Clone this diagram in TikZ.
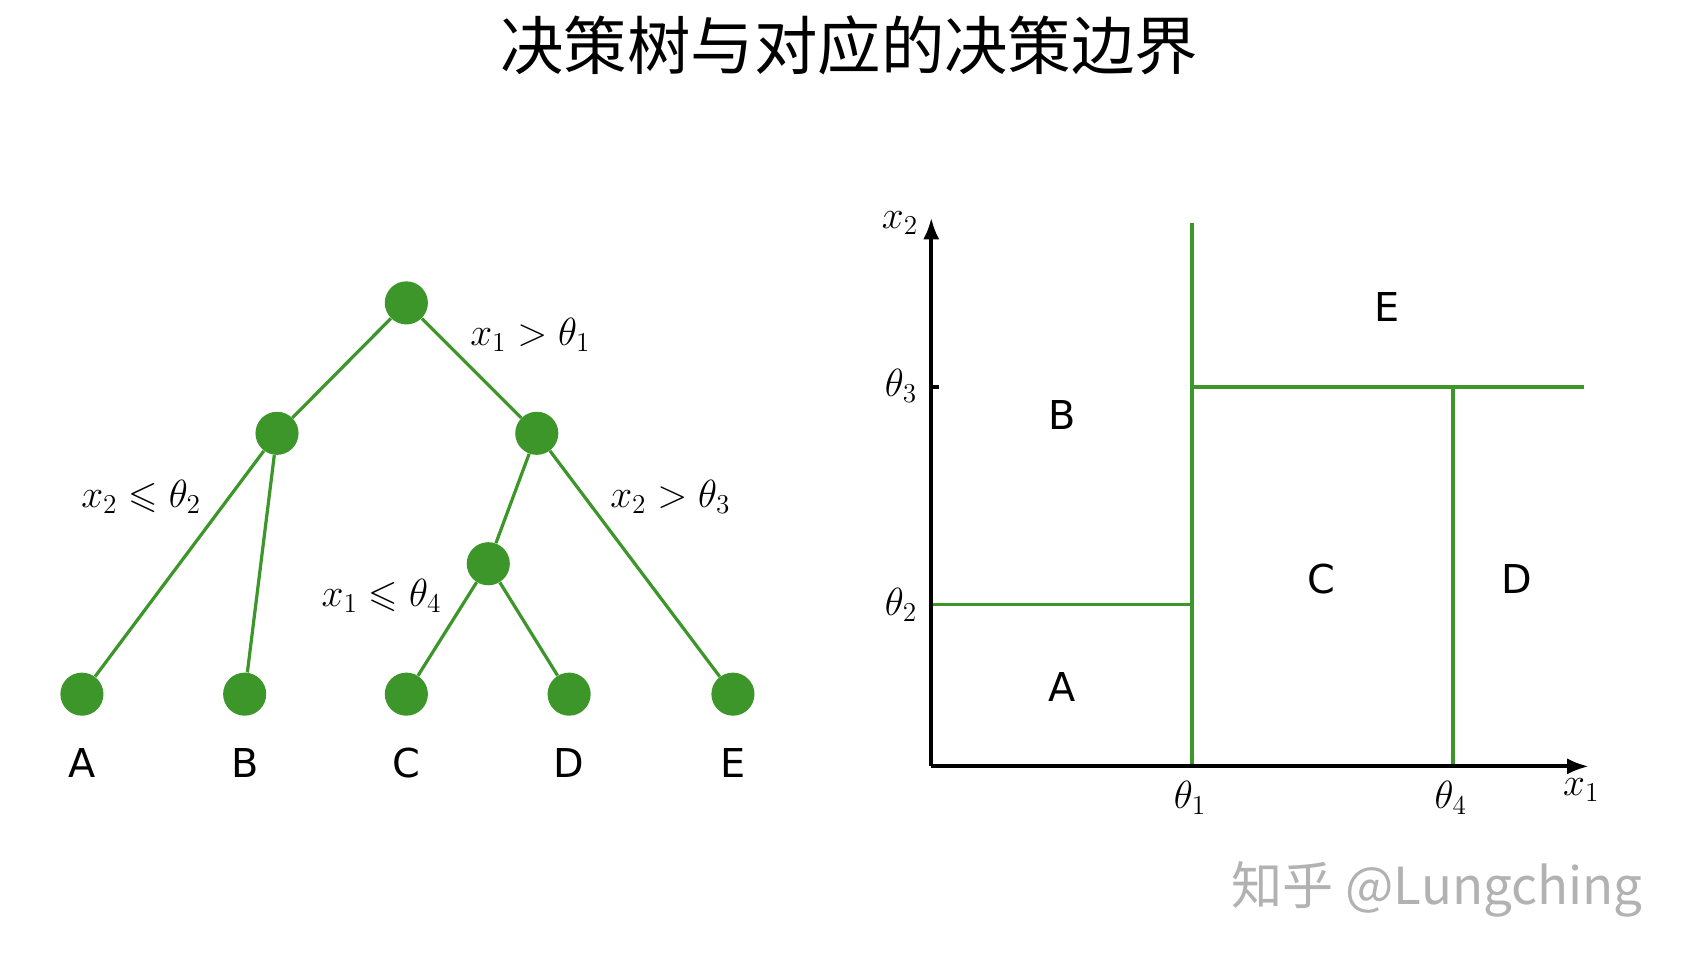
\documentclass[tikz,border=0pt]{standalone}
\usepackage{amsmath, amssymb}
\usepackage{fontspec}
\newfontfamily\cjk{Noto Sans CJK SC}
\newfontfamily\lbl{DejaVu Sans}
\usetikzlibrary{positioning, arrows.meta}
\definecolor{treegreen}{RGB}{60,150,42}
\tikzset{>={Latex[length=0.4cm, width=0.3cm]}}

\begin{document}
\begin{tikzpicture}[x=0.02cm, y=-0.02cm,
    dot/.style={circle, fill=treegreen, inner sep=0pt, minimum size=0.8cm},
    branch/.style={treegreen, line width=1.7pt},
    border/.style={treegreen, line width=1.8pt},
    axis/.style={black, line width=2pt},
    leafname/.style={font=\lbl\fontsize{21}{24}\selectfont},
    cond/.style={font=\fontsize{20}{24}\selectfont}]
    \useasboundingbox (0,0) rectangle (1567,894);
    \node[font=\cjk\fontsize{33.5}{38}\selectfont] (title) at (788,42) {决策树与对应的决策边界};

    % tree
    \node[dot] (root) at (377,281) {};
    \node[dot] (left) at (257,402) {};
    \node[dot] (right) at (498,402) {};
    \node[dot] (mid) at (453,523) {};
    \foreach \n/\x in {A/76, B/227, C/377, D/528, E/680} {
        \node[dot] (leaf\n) at (\x,644) {};
        \node[leafname] (name\n) at (\x,708) {\n};
    }
    \draw[branch] (root) -- (left);
    \draw[branch] (root) -- (right);
    \draw[branch] (left) -- (leafA);
    \draw[branch] (left) -- (leafB);
    \draw[branch] (right) -- (mid);
    \draw[branch] (right) -- (leafE);
    \draw[branch] (mid) -- (leafC);
    \draw[branch] (mid) -- (leafD);
    \node[cond] (c1) at (492,311) {$x_1 > \theta_1$};
    \node[cond] (c2) at (131,461) {$x_2 \leqslant \theta_2$};
    \node[cond] (c3) at (622,461) {$x_2 > \theta_3$};
    \node[cond] (c4) at (354,553) {$x_1 \leqslant \theta_4$};

    % decision regions
    \coordinate (O) at (864,711);
    \coordinate (xend) at (1474,711);
    \coordinate (yend) at (864,202);
    \coordinate (t1low) at (1106,711);
    \coordinate (t1top) at (1106,207);
    \coordinate (t2left) at (864,561);
    \coordinate (t2right) at (1106,561);
    \coordinate (t3left) at (1106,359);
    \coordinate (t3right) at (1470,359);
    \coordinate (t4top) at (1348,359);
    \coordinate (t4low) at (1348,711);
    \draw[border] (t1low) -- (t1top);
    \draw[border] (t2left) -- (t2right);
    \draw[border] (t3left) -- (t3right);
    \draw[border] (t4top) -- (t4low);
    \draw[axis, ->] (O) -- (xend);
    \draw[axis, ->] (O) -- (yend);
    \draw[axis] (864,359) -- (871,359);
    \node[cond] (x1) at (1467,733) {$x_1$};
    \node[cond] (x2) at (835,207) {$x_2$};
    \node[cond] (th3) at (836,358) {$\theta_3$};
    \node[cond] (th2) at (836,561) {$\theta_2$};
    \node[cond] (th1) at (1104,740) {$\theta_1$};
    \node[cond] (th4) at (1346,740) {$\theta_4$};
    \node[leafname] (rB) at (985,385) {B};
    \node[leafname] (rE) at (1287,285) {E};
    \node[leafname] (rC) at (1226,537) {C};
    \node[leafname] (rD) at (1407,537) {D};
    \node[leafname] (rA) at (985,637) {A};

    \node[anchor=east, text=black!30, font=\cjk\fontsize{27}{30}\selectfont] (mark) at (1530,825) {知乎 @Lungching};
\end{tikzpicture}
\end{document}
